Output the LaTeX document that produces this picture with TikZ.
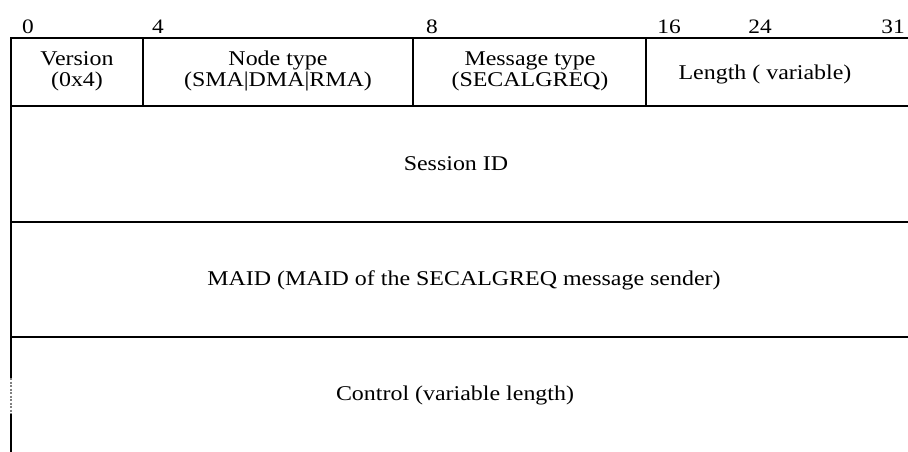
\documentclass[tikz,border=0pt]{standalone}
\usepackage{fontspec}
\setmainfont[FakeStretch=1.14]{Liberation Serif}
\begin{document}
\begin{tikzpicture}[x=1pt,y=-1pt,
  rule/.style={line width=2pt, line cap=rect},
  field/.style={font=\fontsize{21}{21}\selectfont, align=center, inner sep=0pt},
  bit/.style={font=\fontsize{20.5}{21}\selectfont, anchor=base, inner sep=0pt}]
\useasboundingbox (0,0) rectangle (908,452);
% bit labels
\node[bit] (b0) at (28,34) {0};
\node[bit] (b4) at (158,34) {4};
\node[bit] (b8) at (432,34) {8};
\node[bit] (b16) at (669,34) {16};
\node[bit] (b24) at (760,34) {24};
\node[bit] (b31) at (893,34) {31};
% horizontal rules
\draw[rule] (11,38) -- (907,38);
\draw[rule] (11,106) -- (907,106);
\draw[rule] (11,222) -- (907,222);
\draw[rule] (11,337) -- (907,337);
% vertical dividers
\draw[rule] (143,38) -- (143,106);
\draw[rule] (413,38) -- (413,106);
\draw[rule] (646,38) -- (646,106);
% left border
\draw[rule] (11,38) -- (11,378);
\draw[line width=1.5pt, gray, dash pattern=on 2pt off 1.5pt] (11,378) -- (11,415);
\draw[rule] (11,415) -- (11,452);
% fields
\node[field] (ver) at (77,71) {Version\\(0x4)};
\node[field] (ntype) at (278,71) {Node type\\(SMA|DMA|RMA)};
\node[field] (mtype) at (530,71) {Message type\\(SECALGREQ)};
\node[field] (len) at (765,74) {Length ( variable)};
\node[field] (sid) at (456,164) {Session ID};
\node[field] (maid) at (464,280) {MAID (MAID of the SECALGREQ message sender)};
\node[field] (ctl) at (455,395) {Control (variable length)};
\end{tikzpicture}
\end{document}
